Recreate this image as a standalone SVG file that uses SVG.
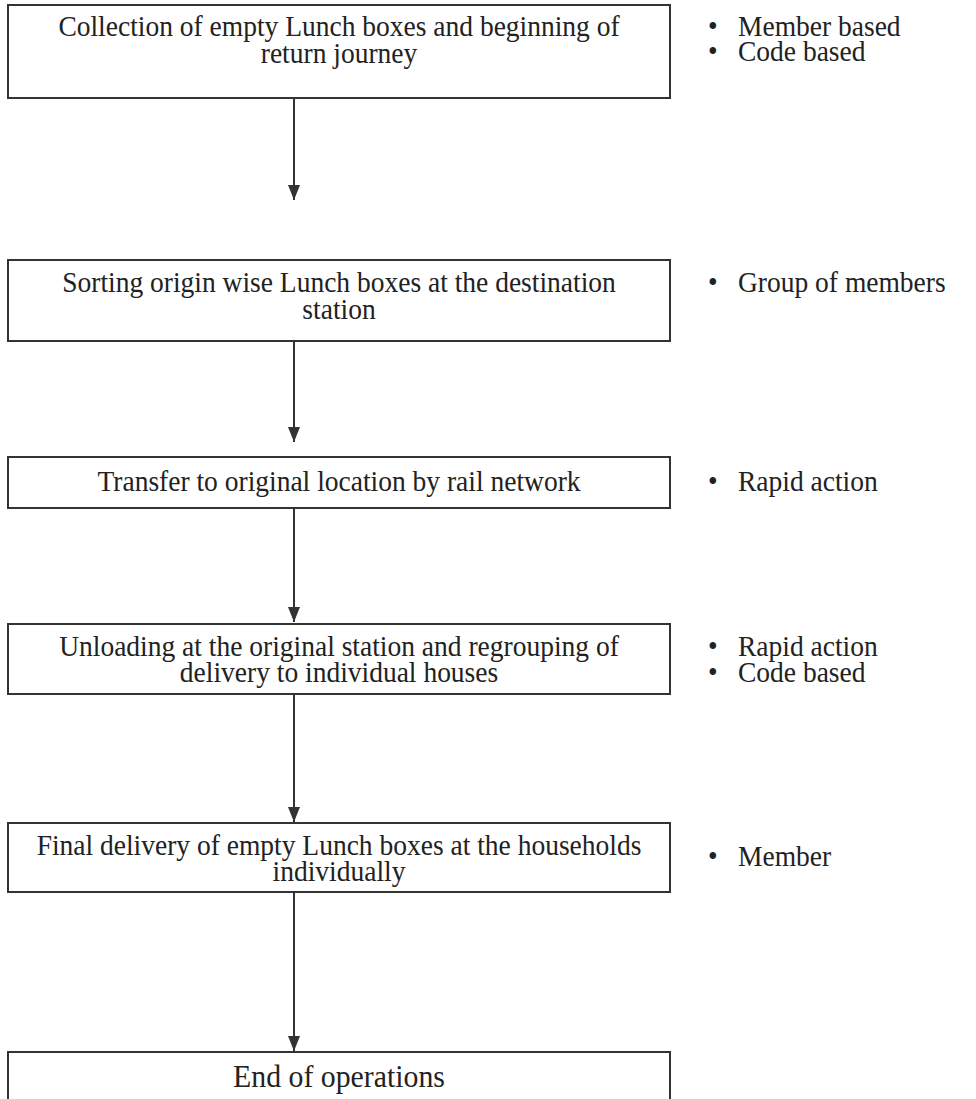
<svg xmlns="http://www.w3.org/2000/svg" width="976" height="1099" viewBox="0 0 976 1099">
<defs>
<style>
.box{fill:#fff;stroke:#333;stroke-width:2}
.t{font-family:"Liberation Serif","Times New Roman",serif;font-size:30px;fill:#222;text-anchor:middle}
.b{font-family:"Liberation Serif","Times New Roman",serif;font-size:30px;fill:#222}
.c{stroke:#333;stroke-width:2;fill:none}
</style>
<marker id="ah" viewBox="0 0 15 12" refX="15" refY="6" markerWidth="15" markerHeight="12" markerUnits="userSpaceOnUse" orient="auto">
<path d="M0,0 L15,6 L0,12 Z" fill="#333"/>
</marker>
</defs>
<g id="connectors">
<line class="c" x1="294" y1="98" x2="294" y2="200" marker-end="url(#ah)"/>
<line class="c" x1="294" y1="341" x2="294" y2="442" marker-end="url(#ah)"/>
<line class="c" x1="294" y1="508" x2="294" y2="622" marker-end="url(#ah)"/>
<line class="c" x1="294" y1="694" x2="294" y2="822" marker-end="url(#ah)"/>
<line class="c" x1="294" y1="892" x2="294" y2="1051" marker-end="url(#ah)"/>
</g>
<g id="n1">
<rect class="box" x="8" y="5" width="662" height="93"/>
<g transform="scale(0.917,1)">
<text class="t" x="369.7" y="36">Collection of empty Lunch boxes and beginning of</text>
<text class="t" x="369.7" y="63">return journey</text>
</g>
</g>
<g id="b1" transform="scale(0.917,1)">
<text class="b" x="772" y="36">•</text><text class="b" x="804.8" y="36">Member based</text>
<text class="b" x="772" y="61">•</text><text class="b" x="804.8" y="61">Code based</text>
</g>
<g id="n2">
<rect class="box" x="8" y="260" width="662" height="81"/>
<g transform="scale(0.917,1)">
<text class="t" x="369.7" y="292">Sorting origin wise Lunch boxes at the destination</text>
<text class="t" x="369.7" y="319">station</text>
</g>
</g>
<g id="b2" transform="scale(0.917,1)">
<text class="b" x="772" y="292">•</text><text class="b" x="804.8" y="292">Group of members</text>
</g>
<g id="n3">
<rect class="box" x="8" y="457" width="662" height="51"/>
<g transform="scale(0.917,1)">
<text class="t" x="369.7" y="491">Transfer to original location by rail network</text>
</g>
</g>
<g id="b3" transform="scale(0.917,1)">
<text class="b" x="772" y="491">•</text><text class="b" x="804.8" y="491">Rapid action</text>
</g>
<g id="n4">
<rect class="box" x="8" y="624" width="662" height="70"/>
<g transform="scale(0.917,1)">
<text class="t" x="369.7" y="656">Unloading at the original station and regrouping of</text>
<text class="t" x="369.7" y="682">delivery to individual houses</text>
</g>
</g>
<g id="b4" transform="scale(0.917,1)">
<text class="b" x="772" y="656">•</text><text class="b" x="804.8" y="656">Rapid action</text>
<text class="b" x="772" y="682">•</text><text class="b" x="804.8" y="682">Code based</text>
</g>
<g id="n5">
<rect class="box" x="8" y="823" width="662" height="69"/>
<g transform="scale(0.917,1)">
<text class="t" x="369.7" y="855">Final delivery of empty Lunch boxes at the households</text>
<text class="t" x="369.7" y="881">individually</text>
</g>
</g>
<g id="b5" transform="scale(0.917,1)">
<text class="b" x="772" y="866">•</text><text class="b" x="804.8" y="866">Member</text>
</g>
<g id="n6">
<rect class="box" x="8" y="1052" width="662" height="60"/>
<g transform="scale(0.917,1)">
<text class="t" x="369.7" y="1087" style="font-size:32.5px">End of operations</text>
</g>
</g>
</svg>
